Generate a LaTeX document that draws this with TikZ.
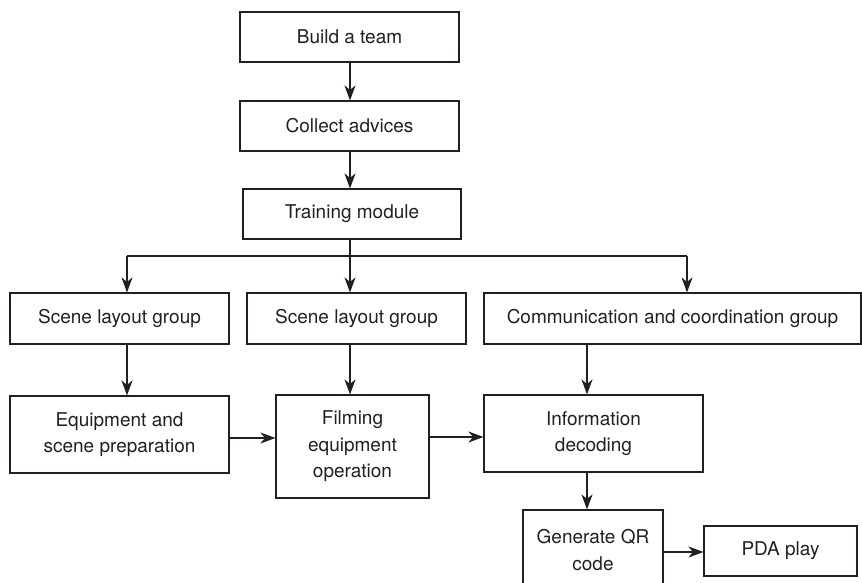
\documentclass[tikz,border=0pt]{standalone}
\usepackage{fontspec}
\setmainfont{TeX Gyre Heros}
\usetikzlibrary{arrows.meta,calc}
\definecolor{ink}{HTML}{231F20}

\begin{document}
\begin{tikzpicture}[x=1pt,y=-1pt,
		every node/.style={text=ink, font=\fontsize{19}{26.5}\selectfont},
		stepbox/.style={draw=ink, line width=1.1pt, inner sep=0pt, align=center},
		flow/.style={draw=ink, line width=1.1pt, -{Stealth[length=15pt,width=11pt,inset=4.5pt]}}]
		\useasboundingbox (0,0) rectangle (862,583);

		% top column
		\node[stepbox, minimum width=219, minimum height=50] (team) at (349.5,37) {Build a team};
		\node[stepbox, minimum width=219, minimum height=50] (advice) at (349.5,126) {Collect advices};
		\node[stepbox, minimum width=218, minimum height=50] (train) at (352,214) {Training module};

		% groups
		\node[stepbox, minimum width=219, minimum height=51] (layoutA) at (119.5,318.5) {Scene layout group};
		\node[stepbox, minimum width=219, minimum height=51] (layoutB) at (356.5,318.5) {Scene layout group};
		\node[stepbox, minimum width=377, minimum height=51] (comm) at (672.5,318.5) {Communication and coordination group};

		% tasks
		\node[stepbox, minimum width=219, minimum height=77] (equip) at (119.5,434.5) {Equipment and\\scene preparation};
		\node[stepbox, minimum width=153, minimum height=103] (film) at (352.5,446.5) {Filming\\equipment\\operation};
		\node[stepbox, minimum width=219, minimum height=77] (decode) at (593.5,433.5) {Information\\decoding};
		\node[stepbox, minimum width=140, minimum height=80] (qr) at (593,550) {Generate QR\\code};
		\node[stepbox, minimum width=153, minimum height=50] (pda) at (780.5,551) {PDA play};

		\draw[flow] (team.south -| 350,0) -- (advice.north -| 350,0);
		\draw[flow] (advice.south -| 350,0) -- (train.north -| 350,0);

		% bus
		\coordinate (bus) at (350,256);
		\draw[draw=ink, line width=1.1pt] (train.south -| bus) -- (bus);
		\draw[draw=ink, line width=1.1pt] (bus -| 127,0) -- (bus -| 687,0);
		\draw[flow] (bus -| 127,0) -- (layoutA.north -| 127,0);
		\draw[flow] (bus) -- (layoutB.north -| bus);
		\draw[flow] (bus -| 687,0) -- (comm.north -| 687,0);

		\draw[flow] (layoutA.south -| 127,0) -- (equip.north -| 127,0);
		\draw[flow] (layoutB.south -| 350,0) -- (film.north -| 350,0);
		\draw[flow] (comm.south -| 587,0) -- (decode.north -| 587,0);

		\draw[flow] (equip.east |- 0,438) -- (film.west |- 0,438);
		\draw[flow] (film.east |- 0,437) -- (decode.west |- 0,437);
		\draw[flow] (decode.south -| 587,0) -- (qr.north -| 587,0);
		\draw[flow] (qr.east |- 0,552) -- (pda.west |- 0,552);
	\end{tikzpicture}
\end{document}
